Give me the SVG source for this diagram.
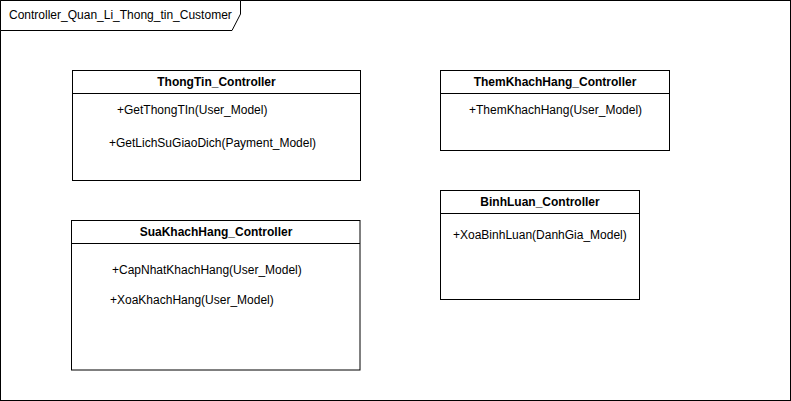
<svg xmlns="http://www.w3.org/2000/svg" width="791" height="401" viewBox="0 0 791 401">
<style>
.box{fill:#fff;stroke:#000;stroke-width:1}
.t{font-family:"Liberation Sans",Arial,sans-serif;font-size:12px;fill:#000}
.b{font-weight:bold;text-anchor:middle}
</style>
<rect width="791" height="401" fill="#fff"/>
<g id="frame">
<rect x="0.5" y="0.5" width="790" height="400" fill="none" stroke="#000"/>
<path d="M0.5 0.5 H240.5 V14 L232 30.5 H0.5 Z" class="box"/>
<text x="9" y="19" class="t">Controller_Quan_Li_Thong_tin_Customer</text>
</g>
<g id="thongtin">
<rect x="72.5" y="70.5" width="288" height="110" class="box"/>
<line x1="72.5" y1="93.5" x2="360.5" y2="93.5" stroke="#000"/>
<text x="216.5" y="86" class="t b">ThongTin_Controller</text>
<text x="117" y="114" class="t">+GetThongTIn(User_Model)</text>
<text x="109" y="147" class="t">+GetLichSuGiaoDich(Payment_Model)</text>
</g>
<g id="themkhachhang">
<rect x="440.5" y="70.5" width="229" height="80" class="box"/>
<line x1="440.5" y1="93.5" x2="669.5" y2="93.5" stroke="#000"/>
<text x="555" y="86" class="t b">ThemKhachHang_Controller</text>
<text x="469" y="114" class="t">+ThemKhachHang(User_Model)</text>
</g>
<g id="binhluan">
<rect x="440.5" y="190.5" width="199" height="109" class="box"/>
<line x1="440.5" y1="213.5" x2="639.5" y2="213.5" stroke="#000"/>
<text x="540" y="206" class="t b">BinhLuan_Controller</text>
<text x="453" y="239" class="t">+XoaBinhLuan(DanhGia_Model)</text>
</g>
<g id="suakhachhang">
<rect x="71.5" y="220.5" width="288.5" height="149.5" class="box"/>
<line x1="71.5" y1="243.5" x2="360" y2="243.5" stroke="#000"/>
<text x="216" y="236" class="t b">SuaKhachHang_Controller</text>
<text x="112" y="274" class="t">+CapNhatKhachHang(User_Model)</text>
<text x="110" y="304" class="t">+XoaKhachHang(User_Model)</text>
</g>
<g id="connectors"></g>
</svg>
